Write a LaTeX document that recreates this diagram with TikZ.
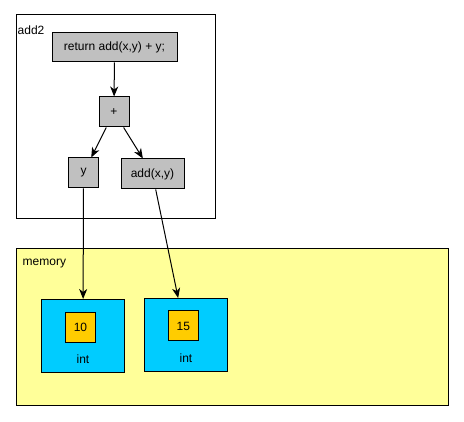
\documentclass[tikz,border=0pt]{standalone}
\usepackage{fontspec}
\setmainfont{Liberation Sans}
\usepackage{tikz}
\usetikzlibrary{arrows.meta,positioning}
\usepackage{xcolor}
\definecolor{exprgray}{HTML}{C0C0C0}
\definecolor{memyellow}{HTML}{FFFF99}
\definecolor{cellblue}{HTML}{00CCFF}
\definecolor{valorange}{HTML}{FFCC00}
\tikzset{
  expr/.style={draw, fill=exprgray, line width=1pt, inner sep=0pt},
  cell/.style={draw, fill=cellblue, line width=1pt, inner sep=0pt, minimum width=83pt, minimum height=73pt},
  val/.style={draw, fill=valorange, line width=1pt, inner sep=0pt, minimum width=30pt, minimum height=30pt},
  link/.style={line width=1pt, -{Stealth[length=10pt,width=8pt,inset=3pt]}},
}

\begin{document}
\begin{tikzpicture}[x=1pt,y=-1pt,font=\fontsize{12}{14}\selectfont]
                    \useasboundingbox (0,0) rectangle (464,422);
                    % function frame
                    \node[draw, line width=1pt, minimum width=199pt, minimum height=204pt] (add2box) at (115.5,117) {};
                    \node[anchor=west, inner sep=0pt] (add2lbl) at (17.5,30) {add2};
                    % expression tree
                    \node[expr, minimum width=125pt, minimum height=29pt] (ret) at (114.5,47.5) {return add(x,y) + y;};
                    \node[expr, minimum width=30pt, minimum height=30pt] (plus) at (114,112) {+};
                    \node[expr, minimum width=30pt, minimum height=30pt] (yv) at (83.5,173) {y};
                    \node[expr, minimum width=63pt, minimum height=30pt] (addxy) at (152.5,174) {add(x,y)};
                    % memory area
                    \node[draw, fill=memyellow, line width=1pt, minimum width=432pt, minimum height=157pt] (mem) at (232,327.5) {};
                    \node[anchor=west, inner sep=0pt] (memlbl) at (22.5,264) {memory};
                    \node[cell] (int1) at (83,336) {};
                    \node[val] (v10) at (80.5,327.5) {10};
                    \node[inner sep=0pt] (t1) at (83,359) {int};
                    \node[cell] (int2) at (185.8,335) {};
                    \node[val] (v15) at (183.3,326) {15};
                    \node[inner sep=0pt] (t2) at (186,358) {int};
                    % arrows
                    \draw[link] (ret) -- (plus);
                    \draw[link] (plus) -- (yv);
                    \draw[link] (plus) -- (addxy);
                    \draw[link] (yv) -- (int1);
                    \draw[link] (addxy) -- (int2);
\end{tikzpicture}
\end{document}
